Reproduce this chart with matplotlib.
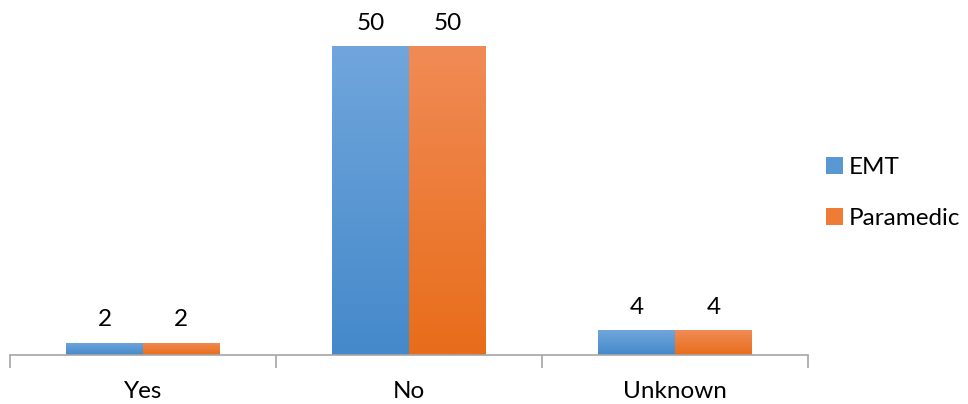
import matplotlib.pyplot as plt
import numpy as np
from matplotlib.colors import LinearSegmentedColormap
from matplotlib.patches import Patch

categories = ["Yes", "No", "Unknown"]
emt = [2, 50, 4]
paramedic = [2, 50, 4]

plt.rcParams['font.family'] = ['Lato', 'DejaVu Sans']
fs = 17.5

fig = plt.figure(figsize=(9.68, 4.04), dpi=100)
ax = fig.add_axes([10 / 968, 1 - 355 / 404, 798 / 968, 355 / 404])

x = np.arange(len(categories))
w = 0.288
series = [
    ("EMT", emt, -w / 2, ("#4589CA", "#70A6DC")),
    ("Paramedic", paramedic, w / 2, ("#E86D1A", "#F18B56")),
]

for name, vals, off, (c_bot, c_top) in series:
    cmap = LinearSegmentedColormap.from_list(name, [c_bot, c_top])
    bars = ax.bar(x + off, vals, w, color="none", edgecolor="none")
    for b in bars:
        # vertical gradient clipped to each bar
        grad = np.linspace(0, 1, 256).reshape(-1, 1)
        im = ax.imshow(grad, cmap=cmap, origin="lower", aspect="auto",
                       extent=(b.get_x(), b.get_x() + b.get_width(), 0, b.get_height()),
                       zorder=2)
        im.set_clip_path(b)
    for xi, v in zip(x + off, vals):
        ax.text(xi, v + 2.0, str(v), ha="center", va="bottom", fontsize=fs, color="#000000")

ax.set_xlim(-0.5, 2.5)
ax.set_ylim(0, 57.44)

for s in ["top", "right", "left"]:
    ax.spines[s].set_visible(False)
ax.spines["bottom"].set_color("#A6A6A6")
ax.spines["bottom"].set_linewidth(1.2)
ax.set_yticks([])
ax.set_xticks([-0.5, 0.5, 1.5, 2.5])
ax.set_xticklabels([])
ax.tick_params(axis="x", length=9, color="#A6A6A6", width=1.2)
ax.set_xticks(x, minor=True)
ax.set_xticklabels(categories, minor=True, fontsize=fs)
ax.tick_params(axis="x", which="minor", length=0, pad=18.5)

handles = [Patch(facecolor="#5A98D4", label="EMT"),
           Patch(facecolor="#EE7B36", label="Paramedic")]
fig.legend(handles=handles, loc="center left", bbox_to_anchor=(804 / 968, 1 - 193 / 404),
           frameon=False, fontsize=fs, handlelength=0.7, handleheight=0.7,
           handletextpad=0.25, labelspacing=1.2)

fig.savefig("out.png", dpi=100)
